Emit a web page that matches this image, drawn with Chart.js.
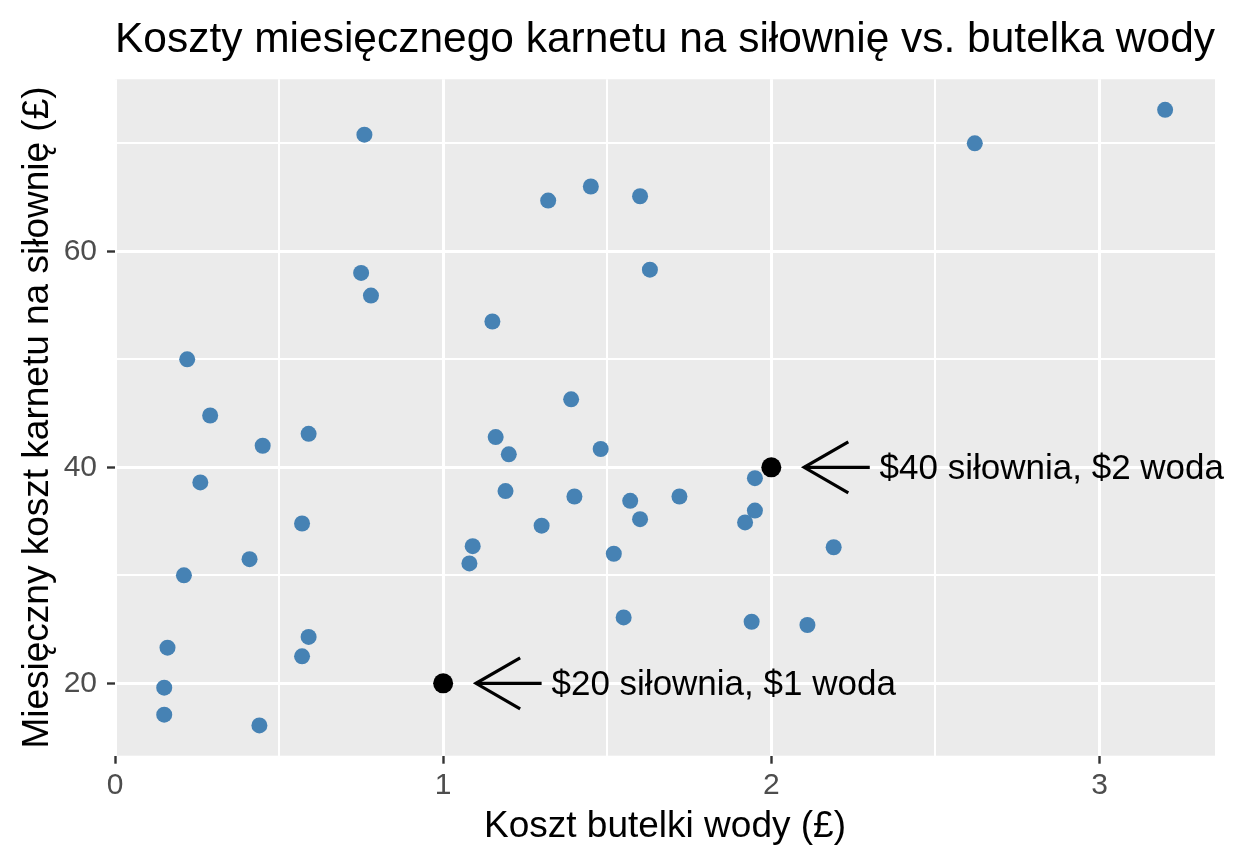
<!DOCTYPE html>
<html>
<head>
<meta charset="utf-8">
<title>Koszty karnetu vs. butelka wody</title>
<script src="https://cdn.jsdelivr.net/npm/chart.js@4.4.1/dist/chart.umd.min.js"></script>
<style>
  html, body { margin: 0; padding: 0; background: #ffffff; }
  #wrap { width: 1234px; height: 864px; }
</style>
</head>
<body>
<div id="wrap"><canvas id="gymChart" width="1234" height="864"></canvas></div>
<script>
// water bottle price (x) and monthly gym pass price (y)
const waterCost = [
  0.76, 0.75, 0.78, 0.22, 0.29,
  1.32, 1.45, 1.60, 1.63, 1.15, 1.39,
  2.62, 3.20,
  0.59, 0.45, 0.26, 0.57, 0.41, 0.21, 0.59, 0.57, 0.16, 0.15, 0.15, 0.44, 1.09, 1.08,
  1.16, 1.20, 1.48, 1.19, 1.40, 1.30, 1.57, 1.60, 1.72, 1.52, 1.95, 1.95, 1.92, 2.19,
  1.55, 1.94, 2.11
];
const gymCost = [
  70.8, 58.0, 55.9, 50.0, 44.8,
  64.7, 66.0, 65.1, 58.3, 53.5, 46.3,
  70.0, 73.1,
  43.1, 42.0, 38.6, 34.8, 31.5, 30.0, 24.3, 22.5, 23.3, 19.6, 17.1, 16.1, 32.7, 31.1,
  42.8, 41.2, 41.7, 37.8, 37.3, 34.6, 36.9, 35.2, 37.3, 32.0, 39.0, 36.0, 34.9, 32.6,
  26.1, 25.7, 25.4
];

// highlighted reference points with arrows and labels
const markX = [1, 2];
const markY = [20, 40];
const arrowFromX = [1.30, 2.30];
const arrowToX = [1.10, 2.10];
const labelX = [1.33, 2.33];
const markLabels = ["$20 siłownia, $1 woda", "$40 siłownia, $2 woda"];

// axes
const xTicks = [0, 1, 2, 3];
const xMinor = [0.5, 1.5, 2.5];
const yTicks = [20, 40, 60];
const yMinor = [30, 50, 70];
const xRange = [0, 3.352];
const yRange = [13.3, 75.93];

const FONT = "'Liberation Sans', Arial, Helvetica, sans-serif";

const scatterData = waterCost.map((x, i) => ({ x: x, y: gymCost[i] }));
const markData = markX.map((x, i) => ({ x: x, y: markY[i] }));

function gridTicks(major, minor) {
  return major.concat(minor).sort((a, b) => a - b).map(v => ({ value: v }));
}

// grey panel behind the plot
const panelPlugin = {
  id: "panel",
  beforeDraw(chart) {
    const a = chart.chartArea;
    const ctx = chart.ctx;
    ctx.save();
    ctx.fillStyle = "#EBEBEB";
    ctx.fillRect(a.left, a.top, a.right - a.left, a.bottom - a.top);
    ctx.restore();
  }
};

// arrows + text for the two marked points
const notesPlugin = {
  id: "notes",
  afterDatasetsDraw(chart) {
    const ctx = chart.ctx;
    const xs = chart.scales.x;
    const ys = chart.scales.y;
    ctx.save();
    ctx.strokeStyle = "#000000";
    ctx.lineWidth = 3.2;
    ctx.lineCap = "butt";
    for (let i = 0; i < markX.length; i++) {
      const y = ys.getPixelForValue(markY[i]);
      const x0 = xs.getPixelForValue(arrowFromX[i]);
      const x1 = xs.getPixelForValue(arrowToX[i]);
      ctx.beginPath();
      ctx.moveTo(x0, y);
      ctx.lineTo(x1, y);
      ctx.stroke();
      const len = 51, ang = Math.PI / 6;
      ctx.beginPath();
      ctx.moveTo(x1 + len * Math.cos(ang), y - len * Math.sin(ang));
      ctx.lineTo(x1, y);
      ctx.lineTo(x1 + len * Math.cos(ang), y + len * Math.sin(ang));
      ctx.stroke();

      ctx.fillStyle = "#000000";
      ctx.font = "35px " + FONT;
      ctx.textAlign = "left";
      ctx.textBaseline = "middle";
      ctx.fillText(markLabels[i], xs.getPixelForValue(labelX[i]), y + 2);
    }
    ctx.restore();
  }
};

const ctx = document.getElementById("gymChart").getContext("2d");
const chart = new Chart(ctx, {
  type: "scatter",
  data: {
    datasets: [
      {
        label: "marked",
        data: markData,
        backgroundColor: "#000000",
        borderWidth: 0,
        pointRadius: 10,
        order: 0
      },
      {
        label: "gyms",
        data: scatterData,
        backgroundColor: "#4682B4",
        borderWidth: 0,
        pointRadius: 8,
        order: 1
      }
    ]
  },
  options: {
    responsive: false,
    animation: false,
    layout: { padding: { left: 0, right: 19, top: 0, bottom: 0 } },
    plugins: {
      legend: { display: false },
      tooltip: { enabled: false },
      title: {
        display: true,
        text: "Koszty miesięcznego karnetu na siłownię vs. butelka wody",
        align: "start",
        fullSize: false,
        color: "#000000",
        font: { family: FONT, size: 43.4, weight: "normal" },
        padding: { top: 14, bottom: 13.2 }
      }
    },
    scales: {
      x: {
        type: "linear",
        min: xRange[0],
        max: xRange[1],
        border: { display: false },
        afterBuildTicks: (s) => { s.ticks = gridTicks(xTicks, xMinor); },
        afterFit: (s) => { s.height = 108.3; },
        grid: {
          color: "#FFFFFF",
          lineWidth: (c) => (c.tick && xTicks.includes(c.tick.value) ? 3 : 2),
          tickColor: (c) => (c.tick && xTicks.includes(c.tick.value) ? "#333333" : "rgba(0,0,0,0)"),
          tickLength: 8,
          tickWidth: 2.4
        },
        ticks: {
          autoSkip: false,
          maxRotation: 0,
          padding: 4,
          color: "#4D4D4D",
          font: { family: FONT, size: 30 },
          callback: (v) => (xTicks.includes(v) ? String(v) : "")
        },
        title: {
          display: true,
          text: "Koszt butelki wody (£)",
          color: "#000000",
          font: { family: FONT, size: 37 },
          padding: { top: 0, bottom: 15 }
        }
      },
      y: {
        type: "linear",
        min: yRange[0],
        max: yRange[1],
        border: { display: false },
        afterBuildTicks: (s) => { s.ticks = gridTicks(yTicks, yMinor); },
        afterFit: (s) => { s.width = 115; },
        grid: {
          color: "#FFFFFF",
          lineWidth: (c) => (c.tick && yTicks.includes(c.tick.value) ? 3 : 2),
          tickColor: (c) => (c.tick && yTicks.includes(c.tick.value) ? "#333333" : "rgba(0,0,0,0)"),
          tickLength: 8,
          tickWidth: 2.4
        },
        ticks: {
          autoSkip: false,
          padding: 10,
          color: "#4D4D4D",
          font: { family: FONT, size: 30 },
          callback: (v) => (yTicks.includes(v) ? String(v) : "")
        },
        title: {
          display: true,
          text: "Miesięczny koszt karnetu na siłownię (£)",
          color: "#000000",
          font: { family: FONT, size: 37 },
          padding: { top: 16, bottom: 0 }
        }
      }
    }
  },
  plugins: [panelPlugin, notesPlugin]
});
</script>
</body>
</html>
